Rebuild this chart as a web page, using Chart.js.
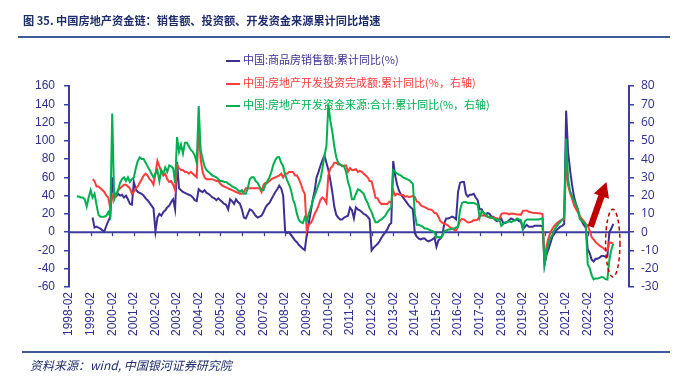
<!DOCTYPE html>
<html><head><meta charset="utf-8">
<script src="https://cdn.jsdelivr.net/npm/chart.js@4.4.1/dist/chart.umd.min.js"></script>
<style>
body{margin:0;background:#fff;}
#wrap{position:relative;width:681px;height:380px;overflow:hidden;font-family:"Noto Sans CJK SC",sans-serif;background:#fff;}
#c{position:absolute;left:0;top:0;}
.title{position:absolute;left:23px;top:12px;font-size:11.2px;font-weight:bold;color:#1f2d6b;white-space:nowrap;line-height:16px;}
.rule1{position:absolute;left:18px;top:36px;width:652px;height:2px;background:#3b5b9b;}
.rule2{position:absolute;left:22px;top:351px;width:648px;height:2px;background:#3b5b9b;}
.src{position:absolute;left:30px;top:357px;font-size:12px;font-style:italic;color:#1f2d6b;white-space:nowrap;line-height:16px;}
.leg{position:absolute;left:226px;font-size:11px;white-space:nowrap;line-height:14px;}
.leg i{display:inline-block;width:14px;height:2px;vertical-align:middle;margin-right:3px;}
</style></head>
<body>
<div id="wrap">
<canvas id="c" width="681" height="380"></canvas>
<div class="title">图 35. 中国房地产资金链：销售额、投资额、开发资金来源累计同比增速</div>
<div class="rule1"></div>
<div class="leg" style="top:52px;color:#3f2f93"><i style="background:#3f2f93"></i>中国:商品房销售额:累计同比(%)</div>
<div class="leg" style="top:75px;color:#ff3c3c"><i style="background:#ff3c3c"></i>中国:房地产开发投资完成额:累计同比(%，右轴)</div>
<div class="leg" style="top:97px;color:#00b050"><i style="background:#00b050"></i>中国:房地产开发资金来源:合计:累计同比(%，右轴)</div>
<div class="rule2"></div>
<div class="src">资料来源：wind, 中国银河证券研究院</div>
</div>
<script>
// categories: monthly cumulative data (Jan merged into Feb), 1998-02 .. 2023-12
const firstYear = 1998, lastYear = 2023;
const monthsInYear = ['02','03','04','05','06','07','08','09','10','11','12'];
const periods = [];
for (let y = firstYear; y <= lastYear; y++) for (const m of monthsInYear) periods.push(y + '-' + m);

const leftTicks = {min:-60, max:160, step:20};
const rightTicks = {min:-30, max:80, step:10};

const n = null;
// 中国:商品房销售额:累计同比(%) — left axis
const salesYoY = [
 n,n,n,n,n,n,n,n,n,n,n,
 n,16,5,6,5,4,2,1,7,12,17,
 60,38,39,42,40,41,38,40,36,31,30,
 55,47,44,43,42,40,37,35,32,29,26,
 1,16,20,18,22,24,27,29,33,36,25,
 77,48,46,44,43,42,41,40,38,35,34,
 47,45,44,46,43,42,40,38,37,35,37,
 35,33,31,30,25,36,34,31,36,33,31,
 25,16,15,20,25,24,21,18,16,17,18,
 22,27,30,32,36,40,44,47,51,48,40,
 1,-1,0,-3,-6,-9,-11,-14,-16,-18,-19.5,
 -3,10,22,35,45,60,66,73,79,84,76,
 68,57,44,28,19,16,14,14,16,17,18,
 27,24,15,27,25,24,22,20,19,17,14,
 -20,-17,-15,-13,-10,-6,-3,0,3,8,10,
 78,62,52,45,41,38,35,32,29,27,25,
 -1,-5,-7,-8,-7,-7,-9,-10,-9,-8,-6,
 -16,-9,-7,-4,10,15,15,16,17,16,14,
 44,54,55,55,42,39,41,41,42,38,35,
 25,25,21,19,21,20,17,17,13,12,14,
 15,10,10,11,13,15,14,13,14,12,12,
 3,6,8,6,6,6,7,7,7,7,6.5,
 -36,-25,-19,-12,-5,-2,2,4,6,7,9,
 133,88,68,52,39,31,24,17,12,8,5,
 -19,-23,-30,-32,-29,-29,-28,-26,-26,-27,-27,
 0,4,9
];
// 中国:房地产开发投资完成额:累计同比(%) — right axis
const investYoY = [
 n,n,n,n,n,n,n,n,n,n,n,
 n,29,28,25,25,24,23,22,20,19,13,
 19,22,20,23,24,25,26,26,25,24,21,
 22,24,25,27,29,31,32,31,29,28,26,
 32,39,36,33,31,32,29,27.5,28,26,23,
 37,35,34,34,33,33,32,33,32,31,30,
 57,40,33,30,29,29,29,29,28.5,28,28,
 26.5,25.5,25,24.5,24,23.5,23,22.5,22,21.5,21,
 21,22,24,24,24,24,24,24,24,24,22,
 26,27,27,28,29,29.5,30,30.5,31,32,30,
 32,32,33,33,33,31,31,29,26.5,23,21,
 1,4,5,7,10,12,14.7,17.7,19,18,16,
 31,35,36,38,38,37,37,36,36.5,36.5,33,
 35,34,34,34.6,33,33.6,33,32,31,30,28,
 27.8,23.5,18.7,18.5,16.6,15.4,15.6,15.4,15.4,16.7,16.2,
 22.8,20.2,21.1,20.6,20.3,20.5,19.3,19.7,19.2,19.5,19.8,
 19.3,16.8,16.4,14.7,14.1,13.7,13.2,12.5,12.4,11.9,10.5,
 10.4,8.5,6.0,5.1,4.6,4.3,3.5,2.6,2.0,1.3,1.0,
 3.0,6.2,7.2,7.0,6.1,5.3,5.4,5.8,6.6,6.5,6.9,
 8.9,9.1,9.3,8.8,8.5,7.9,7.9,8.1,7.8,7.5,7.0,
 9.9,10.4,10.3,10.2,9.7,10.2,10.1,9.9,9.7,9.7,9.5,
 11.6,11.8,11.9,11.2,10.9,10.6,10.5,10.5,10.3,10.2,9.9,
 -16.3,-7.7,-3.3,-0.3,1.9,3.4,4.6,5.6,6.3,6.8,7.0,
 38.3,25.6,21.6,18.3,15.0,12.7,10.9,8.8,7.2,6.0,4.4,
 3.7,0.7,-2.7,-4.0,-5.4,-6.4,-7.4,-8.0,-8.8,-9.8,-10.0,
 -5.7,-5.8,-6.2
];
// 中国:房地产开发资金来源:合计:累计同比(%) — right axis
const fundingYoY = [
 n,n,n,n,19.5,19.5,19,19,18,14,19,
 23,19,21,15,9.5,8.5,8.5,8.5,9,11,8.5,
 65,18,21,23,27,29,30,28,30,27.5,29,
 30,35,39,41,40,40,38,36,34,32,30,
 32,34,28,34,32,35.5,33,36.5,36,35,27,
 52,44,48,43,49,49,47,45,44,42,38,
 69,45,40,36,34,33,32,31,30.5,30,29,
 28,28,27.5,27.5,26.5,26,25,24.5,24,23,22,
 23,21,21,24,29,30,30,28,27,25,23,
 23,26,28,30,33,37,39.5,41,41,38,36,
 31.5,28.5,26,23,18,15,10,6.6,5.5,5,8,
 6,10,13,17,20,23,26,29,35,42,47,
 70,61,55,47,41,38,37,36.5,36,33,27.5,
 24,18,18,21,23.5,23,22,21,18,16,13,
 11,8,5.5,5.5,6.4,7,8,9,11,12.5,13.7,
 34,33,32,31.5,31,30,29.5,29,28.5,27.5,26.5,
 10,4,4,3.5,3,2,2,1.5,1,0.5,0,
 -3,-2.5,-3,-2,0.5,1,1.5,1.5,2,2,2.6,
 3,12,16,16.5,16.5,16,16,16,16,15.5,15,
 8,11.5,10.5,10,8.5,8.5,8,7.5,7,6.5,7.3,
 3.5,4.5,5.5,5.5,6,5.5,6,6.5,7.5,7,6.5,
 2,6,7,7,7,7,7,7,7,7.3,7.6,
 -17.5,-10.9,-6.4,-3.1,-1.4,1.2,2.9,4.4,5.5,6.9,8.1,
 51.2,29,22.5,20,17.2,14.8,12.8,7.1,6.1,5.3,4.2,
 -17.7,-19.6,-23.6,-25.8,-25.3,-25.4,-25.0,-24.5,-24.7,-25.7,-25.9,
 -15.2,-9.5,-6.4
];

// annotation anchors (category index, left-axis value)
const arrowFrom = {i:265.5, v:6}, arrowTo = {i:273.5, v:55};
const ellipseBox = {i0:273.1, i1:280.4, vTop:25, vBottom:-49};

const axisColor = '#3d3d9e';
const tickColor = '#2e2e8c';
const annColor = '#c00000';

const overlay = {
  id:'overlay',
  beforeDatasetsDraw(chart){
    const {ctx, chartArea:a, scales} = chart;
    const x = scales.x, y = scales.y;
    const y0 = y.getPixelForValue(0);
    ctx.save();
    ctx.strokeStyle = axisColor;
    ctx.lineWidth = 2;
    ctx.beginPath(); ctx.moveTo(a.left, y0); ctx.lineTo(a.right, y0); ctx.stroke();
    ctx.lineWidth = 1.2;
    periods.forEach((p,i)=>{
      if (i > 0 && p.endsWith('-02')) {
        const px = Math.round(x.getPixelForValue(i)) + 0.5;
        ctx.beginPath(); ctx.moveTo(px, y0); ctx.lineTo(px, y0 + 4); ctx.stroke();
      }
    });
    ctx.restore();
  },
  afterDatasetsDraw(chart){
    const {ctx, scales} = chart;
    const x = scales.x, y = scales.y;
    ctx.save();
    // arrow
    const x1 = x.getPixelForValue(arrowFrom.i), y1 = y.getPixelForValue(arrowFrom.v);
    const x2 = x.getPixelForValue(arrowTo.i), y2 = y.getPixelForValue(arrowTo.v);
    const ang = Math.atan2(y2 - y1, x2 - x1);
    const len = Math.hypot(x2 - x1, y2 - y1);
    const headL = 15, headW = 8, shaftW = 3.2;
    ctx.translate(x1, y1); ctx.rotate(ang);
    ctx.fillStyle = annColor;
    ctx.beginPath();
    ctx.moveTo(0, -shaftW); ctx.lineTo(len - headL, -shaftW); ctx.lineTo(len - headL, -headW);
    ctx.lineTo(len, 0); ctx.lineTo(len - headL, headW); ctx.lineTo(len - headL, shaftW);
    ctx.lineTo(0, shaftW); ctx.closePath(); ctx.fill();
    ctx.setTransform(1,0,0,1,0,0);
    // dashed ellipse
    const ex0 = x.getPixelForValue(ellipseBox.i0), ex1 = x.getPixelForValue(ellipseBox.i1);
    const ey0 = y.getPixelForValue(ellipseBox.vTop), ey1 = y.getPixelForValue(ellipseBox.vBottom);
    ctx.strokeStyle = annColor; ctx.lineWidth = 1.5; ctx.setLineDash([4,3]);
    ctx.beginPath();
    ctx.ellipse((ex0+ex1)/2, (ey0+ey1)/2, (ex1-ex0)/2, (ey1-ey0)/2, 0, 0, Math.PI*2);
    ctx.stroke();
    ctx.restore();
  }
};

const tickFont = {family:'"Liberation Sans", Arial, sans-serif', size:12};

new Chart(document.getElementById('c'), {
  type:'line',
  data:{
    labels: periods,
    datasets:[
      {label:'中国:商品房销售额:累计同比(%)', data:salesYoY, yAxisID:'y', borderColor:'#3f2f93', order:3},
      {label:'中国:房地产开发投资完成额:累计同比(%，右轴)', data:investYoY, yAxisID:'y1', borderColor:'#ff3c3c', order:2},
      {label:'中国:房地产开发资金来源:合计:累计同比(%，右轴)', data:fundingYoY, yAxisID:'y1', borderColor:'#00b050', order:1}
    ]
  },
  options:{
    responsive:false, animation:false, devicePixelRatio:1, events:[],
    layout:{padding:{top:86, left:0, right:0, bottom:0}},
    elements:{line:{borderWidth:2, tension:0}, point:{radius:0}},
    plugins:{legend:{display:false}, tooltip:{enabled:false}},
    scales:{
      x:{
        type:'category', offset:false,
        grid:{display:false, drawTicks:false}, border:{display:false},
        ticks:{autoSkip:false, maxRotation:90, minRotation:90, padding:5, color:tickColor, font:tickFont,
          callback:(v,i)=> periods[i].endsWith('-02') ? periods[i] : ''},
        afterFit:s=>{ s.height = 93; }
      },
      y:{
        position:'left', min:leftTicks.min, max:leftTicks.max,
        ticks:{stepSize:leftTicks.step, color:tickColor, font:tickFont, padding:9},
        grid:{drawOnChartArea:false, drawTicks:true, tickLength:5, color:axisColor, lineWidth:1.5},
        border:{display:true, color:axisColor, width:2},
        afterFit:s=>{ s.width = 69; }
      },
      y1:{
        position:'right', min:rightTicks.min, max:rightTicks.max,
        ticks:{stepSize:rightTicks.step, color:tickColor, font:{family:'"Open Sans", "Liberation Sans", sans-serif', size:12}, padding:7},
        grid:{drawOnChartArea:false, drawTicks:true, tickLength:5, color:axisColor, lineWidth:1.5},
        border:{display:true, color:axisColor, width:2},
        afterFit:s=>{ s.width = 52; }
      }
    }
  },
  plugins:[overlay]
});
</script>
</body></html>
